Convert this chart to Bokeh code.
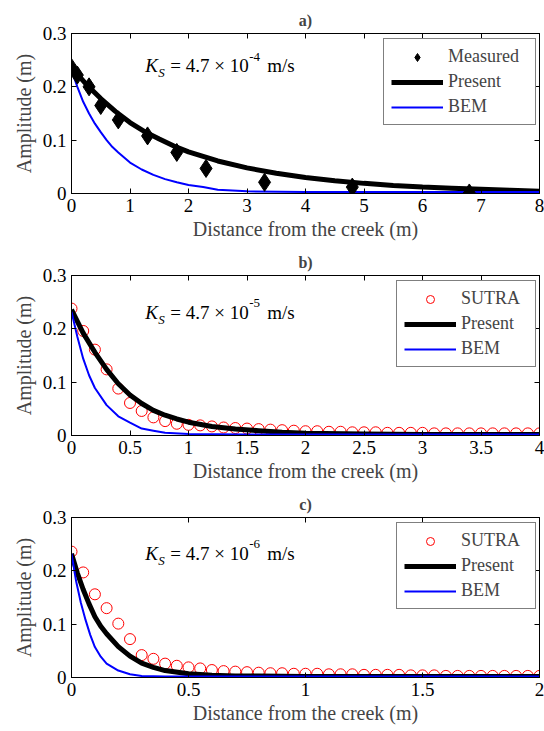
from bokeh.plotting import figure
from bokeh.layouts import column
from bokeh.models import Range1d, LinearAxis, FixedTicker, Label, Legend, LegendItem
from bokeh.embed import file_html
from bokeh.resources import INLINE

# ---------------- data ----------------
y_ticks = [0, 0.1, 0.2, 0.3]
y_tick_labels = ["0", "0.1", "0.2", "0.3"]

# panel a
a_xticks = [0, 1, 2, 3, 4, 5, 6, 7, 8]
a_xtick_labels = ["0", "1", "2", "3", "4", "5", "6", "7", "8"]
meas_x = [0, 0.1, 0.3, 0.5, 0.8, 1.3, 1.8, 2.3, 3.3, 4.8, 6.8]
meas_y = [0.236, 0.222, 0.200, 0.165, 0.138, 0.108, 0.077, 0.047, 0.021, 0.012, 0.001]
pres_a_x = [0, 0.25, 0.5, 0.75, 1, 1.25, 1.5, 1.75, 2, 2.5, 3, 3.5, 4, 4.5, 5, 5.5, 6, 6.5, 7, 7.5, 8]
pres_a_y = [0.236, 0.205, 0.178, 0.154, 0.133, 0.116, 0.102, 0.089, 0.078, 0.061, 0.048, 0.038,
            0.030, 0.024, 0.019, 0.015, 0.012, 0.010, 0.008, 0.006, 0.004]
bem_a_x = [0, 0.1, 0.2, 0.3, 0.4, 0.5, 0.6, 0.7, 0.8, 1.0, 1.2, 1.4, 1.6, 1.8, 2.0, 2.25, 2.5, 3, 4, 5, 6, 7, 8]
bem_a_y = [0.232, 0.200, 0.172, 0.150, 0.131, 0.115, 0.100, 0.087, 0.077, 0.058, 0.045, 0.035,
           0.027, 0.021, 0.016, 0.012, 0.007, 0.004, 0.003, 0.003, 0.003, 0.003, 0.003]

# panel b
b_xticks = [0, 0.5, 1, 1.5, 2, 2.5, 3, 3.5, 4]
b_xtick_labels = ["0", "0.5", "1", "1.5", "2", "2.5", "3", "3.5", "4"]
sutra_b_x = [0.0, 0.1, 0.2, 0.3, 0.4, 0.5, 0.6, 0.7, 0.8, 0.9, 1.0, 1.1, 1.2, 1.3, 1.4, 1.5,
             1.6, 1.7, 1.8, 1.9, 2.0, 2.1, 2.2, 2.3, 2.4, 2.5, 2.6, 2.7, 2.8, 2.9, 3.0, 3.1,
             3.2, 3.3, 3.4, 3.5, 3.6, 3.7, 3.8, 3.9, 4.0]
sutra_b_y = [0.238, 0.196, 0.161, 0.124, 0.088, 0.061, 0.046, 0.034, 0.027, 0.022, 0.020, 0.019,
             0.017, 0.015, 0.014, 0.013, 0.012, 0.011, 0.010, 0.009, 0.008, 0.008, 0.007, 0.007,
             0.006, 0.006, 0.006, 0.005, 0.005, 0.005, 0.005, 0.004, 0.004, 0.004, 0.004, 0.004,
             0.004, 0.004, 0.004, 0.004, 0.004]
pres_b_x = [0, 0.1, 0.2, 0.3, 0.4, 0.5, 0.6, 0.7, 0.8, 0.9, 1.0, 1.2, 1.4, 1.6, 1.8, 2.0, 2.5, 3.0, 3.5, 4.0]
pres_b_y = [0.236, 0.192, 0.156, 0.124, 0.097, 0.076, 0.060, 0.047, 0.038, 0.031, 0.025, 0.017,
            0.012, 0.009, 0.006, 0.004, 0.003, 0.002, 0.002, 0.002]
bem_b_x = [0, 0.05, 0.1, 0.15, 0.2, 0.3, 0.4, 0.5, 0.6, 0.7, 0.8, 1.0, 1.5, 2, 3, 4]
bem_b_y = [0.232, 0.185, 0.144, 0.113, 0.089, 0.057, 0.036, 0.024, 0.013, 0.009, 0.005, 0.003,
           0.002, 0.002, 0.002, 0.002]

# panel c
c_xticks = [0, 0.5, 1, 1.5, 2]
c_xtick_labels = ["0", "0.5", "1", "1.5", "2"]
sutra_c_x = [0.0, 0.05, 0.1, 0.15, 0.2, 0.25, 0.3, 0.35, 0.4, 0.45, 0.5, 0.55, 0.6, 0.65, 0.7,
             0.75, 0.8, 0.85, 0.9, 0.95, 1.0, 1.05, 1.1, 1.15, 1.2, 1.25, 1.3, 1.35, 1.4, 1.45,
             1.5, 1.55, 1.6, 1.65, 1.7, 1.75, 1.8, 1.85, 1.9, 1.95, 2.0]
sutra_c_y = [0.236, 0.197, 0.156, 0.130, 0.101, 0.072, 0.042, 0.035, 0.026, 0.022, 0.019, 0.017,
             0.014, 0.012, 0.011, 0.010, 0.009, 0.008, 0.008, 0.007, 0.007, 0.007, 0.006, 0.006,
             0.006, 0.005, 0.005, 0.005, 0.005, 0.004, 0.004, 0.004, 0.003, 0.003, 0.003, 0.003,
             0.003, 0.003, 0.003, 0.003, 0.003]
pres_c_x = [0, 0.025, 0.05, 0.075, 0.1, 0.125, 0.15, 0.2, 0.25, 0.3, 0.35, 0.4, 0.5, 0.6, 0.7, 0.8, 1.0, 1.5, 2.0]
pres_c_y = [0.232, 0.196, 0.165, 0.138, 0.114, 0.096, 0.082, 0.058, 0.040, 0.027, 0.019, 0.013,
            0.007, 0.004, 0.003, 0.003, 0.002, 0.002, 0.002]
bem_c_x = [0, 0.02, 0.04, 0.06, 0.08, 0.1, 0.125, 0.15, 0.2, 0.25, 0.3, 0.4, 1.0, 2.0]
bem_c_y = [0.232, 0.180, 0.140, 0.108, 0.080, 0.057, 0.039, 0.026, 0.013, 0.006, 0.003, 0.002,
           0.002, 0.002]

FONT = "Liberation Serif"
FRAME_W = 468


def style_axis(ax, ticks, labels, show_labels=True):
    ax.ticker = FixedTicker(ticks=ticks)
    ax.minor_tick_line_color = None
    ax.major_tick_in = 5
    ax.major_tick_out = 0
    ax.axis_line_color = "black"
    ax.major_tick_line_color = "black"
    if show_labels:
        ax.major_label_overrides = {t: l for t, l in zip(ticks, labels)}
        ax.major_label_text_font = FONT
        ax.major_label_text_font_size = "19px"
        ax.major_label_text_color = "black"
        ax.major_label_standoff = 5
    else:
        ax.major_label_overrides = {t: "" for t in ticks}
        ax.major_label_text_font_size = "0px"
        ax.major_label_standoff = 0


def panel(title, xmax, xticks, xlabels, height, bottom):
    p = figure(width=544, height=height, x_range=Range1d(0, xmax), y_range=Range1d(0, 0.3),
               output_backend="svg", toolbar_location=None,
               min_border_left=71, min_border_right=5, min_border_top=33, min_border_bottom=bottom,
               outline_line_color="black", outline_line_width=1)
    p.grid.visible = False
    p.title.text = title
    p.title.align = "center"
    p.title.text_font = FONT
    p.title.text_font_size = "16px"
    p.title.text_font_style = "bold"
    p.title.standoff = 10

    style_axis(p.xaxis[0], xticks, xlabels)
    p.xaxis[0].axis_label = "Distance from the creek (m)"
    p.xaxis[0].axis_label_text_font = FONT
    p.xaxis[0].axis_label_text_font_size = "20px"
    p.xaxis[0].axis_label_text_font_style = "normal"
    p.xaxis[0].axis_label_standoff = 3

    style_axis(p.yaxis[0], y_ticks, y_tick_labels)
    p.yaxis[0].axis_label = "Amplitude (m)"
    p.yaxis[0].axis_label_text_font = FONT
    p.yaxis[0].axis_label_text_font_size = "20px"
    p.yaxis[0].axis_label_text_font_style = "normal"
    p.yaxis[0].axis_label_standoff = 5

    top = LinearAxis()
    style_axis(top, xticks, xlabels, show_labels=False)
    p.add_layout(top, "above")
    right = LinearAxis()
    style_axis(right, y_ticks, y_tick_labels, show_labels=False)
    p.add_layout(right, "right")
    return p


def ks_label(p, x, y, exponent):
    common = dict(x=x, y=y, text_font=FONT, text_color="black", text_baseline="alphabetic")
    p.add_layout(Label(text="K", text_font_size="19px", text_font_style="italic", **common))
    p.add_layout(Label(text="S", text_font_size="13px", text_font_style="italic",
                       x_offset=13, y_offset=-7, **common))
    p.add_layout(Label(text="= 4.7 \u00d7 10", text_font_size="19px", x_offset=25, **common))
    p.add_layout(Label(text=exponent, text_font_size="13px", x_offset=104, y_offset=9, **common))
    p.add_layout(Label(text="m/s", text_font_size="19px", x_offset=122, **common))


def add_legend(p, items, label_width):
    width = 2 * 7 + 52 + 5 + label_width
    leg = Legend(items=items, location=(FRAME_W - 5 - width, 160 - 10 - 82),
                 border_line_color="black", border_line_width=1,
                 label_text_font=FONT, label_text_font_size="18px",
                 glyph_width=52, glyph_height=20, label_height=20, label_width=label_width,
                 label_standoff=5, padding=7, spacing=4, margin=0,
                 background_fill_color="white", background_fill_alpha=1)
    p.add_layout(leg)


# ---------------- panel a ----------------
pa = panel("a)", 8, a_xticks, a_xtick_labels, 242, 49)
r_pa = pa.line(pres_a_x, pres_a_y, line_color="black", line_width=5)
r_ba = pa.line(bem_a_x, bem_a_y, line_color="#0000ff", line_width=2)
r_ma = pa.scatter(meas_x, meas_y, marker="diamond", size=18,
                  fill_color="black", line_color="black")
ks_label(pa, 1.26, 0.240, "-4")
add_legend(pa, [LegendItem(label="Measured", renderers=[r_ma]),
                LegendItem(label="Present", renderers=[r_pa]),
                LegendItem(label="BEM", renderers=[r_ba])], 80)

# ---------------- panel b ----------------
pb = panel("b)", 4, b_xticks, b_xtick_labels, 242, 49)
r_sb = pb.scatter(sutra_b_x, sutra_b_y, marker="circle", size=11, fill_color=None,
                  line_color="red", line_width=1)
r_pb = pb.line(pres_b_x, pres_b_y, line_color="black", line_width=5)
r_bb = pb.line(bem_b_x, bem_b_y, line_color="#0000ff", line_width=2)
ks_label(pb, 0.63, 0.231, "-5")
add_legend(pb, [LegendItem(label="SUTRA", renderers=[r_sb]),
                LegendItem(label="Present", renderers=[r_pb]),
                LegendItem(label="BEM", renderers=[r_bb])], 67)

# ---------------- panel c ----------------
pc = panel("c)", 2, c_xticks, c_xtick_labels, 247, 54)
r_sc = pc.scatter(sutra_c_x, sutra_c_y, marker="circle", size=11, fill_color=None,
                  line_color="red", line_width=1)
r_pc = pc.line(pres_c_x, pres_c_y, line_color="black", line_width=5)
r_bc = pc.line(bem_c_x, bem_c_y, line_color="#0000ff", line_width=2)
ks_label(pc, 0.315, 0.233, "-6")
add_legend(pc, [LegendItem(label="SUTRA", renderers=[r_sc]),
                LegendItem(label="Present", renderers=[r_pc]),
                LegendItem(label="BEM", renderers=[r_bc])], 67)

layout = column(pa, pb, pc, spacing=0)
open("out.html", "w").write(file_html(layout, INLINE))
